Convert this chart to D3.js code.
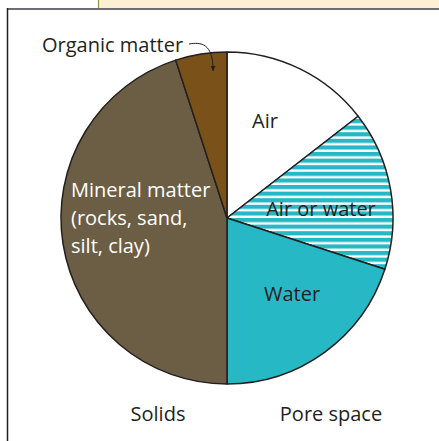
<!DOCTYPE html>
<html>
<head>
<meta charset="utf-8">
<script src="https://cdn.jsdelivr.net/npm/d3@7"></script>
<style>
  html, body { margin: 0; padding: 0; background: #fff; }
  svg { display: block; }
  text { font-family: "Open Sans", "Noto Sans", sans-serif; fill: #231f20; }
</style>
</head>
<body>
<svg id="chart" width="439" height="441"></svg>
<script>
// Soil composition by volume (percent), clockwise from the top
const categories = ["Air", "Air or water", "Water", "Mineral matter", "Organic matter"];
const values = [14.5, 15.5, 20, 45, 5];
const fills = ["#ffffff", "url(#stripes)", "#27b8c5", "#6b5e44", "#7a5119"];
const groupLabels = ["Solids", "Pore space"];

const svg = d3.select("#chart");
const W = 439, H = 441;

// stripe pattern for the "air or water" wedge
const defs = svg.append("defs");
const pat = defs.append("pattern")
  .attr("id", "stripes")
  .attr("patternUnits", "userSpaceOnUse")
  .attr("width", 10).attr("height", 6.6);
pat.append("rect").attr("width", 10).attr("height", 6.6).attr("fill", "#ffffff");
pat.append("rect").attr("y", 0).attr("width", 10).attr("height", 4.2).attr("fill", "#27b8c5");

defs.append("marker")
  .attr("id", "arrow")
  .attr("viewBox", "0 0 10 10")
  .attr("refX", 8).attr("refY", 5)
  .attr("markerWidth", 6).attr("markerHeight", 6)
  .attr("orient", "auto")
  .append("path").attr("d", "M0,1 L9,5 L0,9 Z").attr("fill", "#231f20");

// page furniture: tinted box and frame
svg.append("rect").attr("x", 98.5).attr("y", 0).attr("width", W - 98.5).attr("height", 8)
  .attr("fill", "#fdefd3");
svg.append("line").attr("x1", 98.5).attr("x2", 98.5).attr("y1", 0).attr("y2", 8)
  .attr("stroke", "#8d9a3c").attr("stroke-width", 1.2);
svg.append("line").attr("x1", 7).attr("x2", W).attr("y1", 9).attr("y2", 9)
  .attr("stroke", "#6d6e71").attr("stroke-width", 2);
svg.append("line").attr("x1", 7.5).attr("x2", 7.5).attr("y1", 8).attr("y2", H)
  .attr("stroke", "#231f20").attr("stroke-width", 1.5);

const cx = 227, cy = 218, r = 166;
const g = svg.append("g").attr("transform", `translate(${cx},${cy})`);

const pie = d3.pie().sort(null).value(d => d.v).startAngle(0).endAngle(2 * Math.PI);
const data = pie(categories.map((c, i) => ({ c, v: values[i], f: fills[i] })));
const arc = d3.arc().innerRadius(0).outerRadius(r);

g.selectAll("path.slice")
  .data(data)
  .join("path")
  .attr("class", "slice")
  .attr("d", arc)
  .attr("fill", d => d.data.f)
  .attr("stroke", "#231f20")
  .attr("stroke-width", 1.5)
  .attr("stroke-linejoin", "round");

// slice labels
const fs = 20;
function label(x, y, lines, color, anchor) {
  const t = svg.append("text").attr("x", x).attr("y", y)
    .attr("font-size", fs).attr("text-anchor", anchor || "middle")
    .style("fill", color || "#231f20");
  lines.forEach((s, i) => t.append("tspan").attr("x", x).attr("dy", i ? 28 : 0).text(s));
}
label(265, 128, ["Air"]);
label(321, 216, ["Air or water"]);
label(292, 301, ["Water"]);
label(71, 197, ["Mineral matter", "(rocks, sand,", "silt, clay)"], "#ffffff", "start");
label(42, 52, ["Organic matter"], null, "start");

// leader from the organic matter label into its wedge
const org = data[4];
const a = org.startAngle + 0.7 * (org.endAngle - org.startAngle);
const tip = [cx + Math.sin(a) * (r - 18), cy - Math.cos(a) * (r - 18)];
svg.append("path")
  .attr("d", `M189,44 C201,42 ${tip[0]},43 ${tip[0]},${tip[1]}`)
  .attr("fill", "none").attr("stroke", "#231f20").attr("stroke-width", 1)
  .attr("marker-end", "url(#arrow)");

// group captions under the halves
svg.append("text").attr("x", 158).attr("y", 421).attr("font-size", fs)
  .attr("text-anchor", "middle").text(groupLabels[0]);
svg.append("text").attr("x", 331).attr("y", 421).attr("font-size", fs)
  .attr("text-anchor", "middle").text(groupLabels[1]);
</script>
</body>
</html>
